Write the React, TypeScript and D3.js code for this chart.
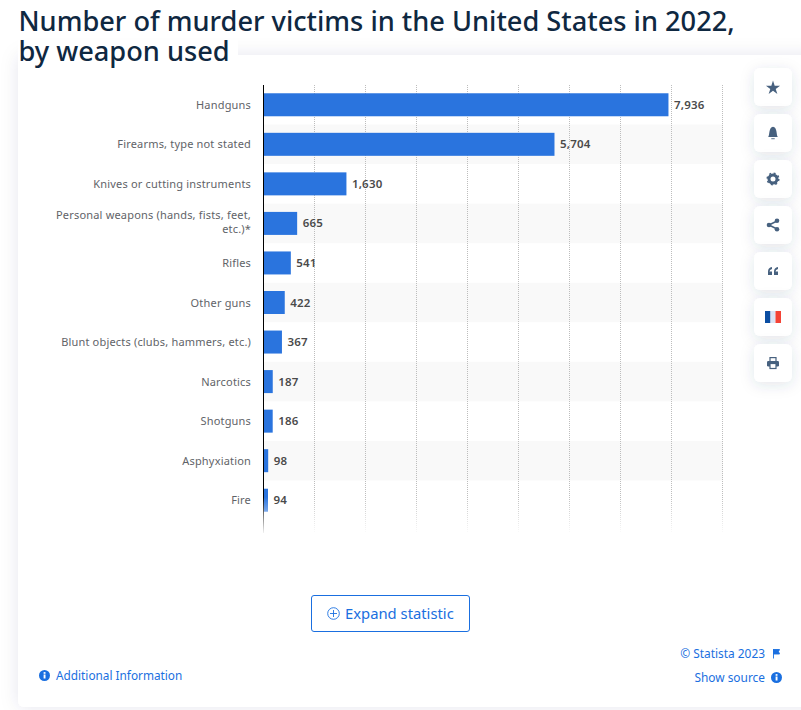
import React from "react";
import * as d3 from "d3";

const categories = [
  ["Handguns"],
  ["Firearms, type not stated"],
  ["Knives or cutting instruments"],
  ["Personal weapons (hands, fists, feet,", "etc.)*"],
  ["Rifles"],
  ["Other guns"],
  ["Blunt objects (clubs, hammers, etc.)"],
  ["Narcotics"],
  ["Shotguns"],
  ["Asphyxiation"],
  ["Fire"],
];
const victims = [7936, 5704, 1630, 665, 541, 422, 367, 187, 186, 98, 94];
const gridTicks = [1000, 2000, 3000, 4000, 5000, 6000, 7000, 8000, 9000];
const titleLines = ["Number of murder victims in the United States in 2022,", "by weapon used"];

const FONT = "'Noto Sans', 'Open Sans', sans-serif";
const BLUE = "#2a74de";
const LINK = "#1a6fe0";
const ICON = "#47617f";

const x = d3.scaleLinear().domain([0, 9000]).range([263.2, 722.8]);
const y = d3.scaleBand<number>().domain(d3.range(categories.length)).range([85, 520]).paddingInner(0);
const fmt = d3.format(",");

const buttonsY = [68, 114, 160, 206, 252, 298, 344];

function Buttons() {
  const star = d3.symbol().type(d3.symbolStar).size(62)();
  return (
    <g>
      {buttonsY.map((by) => (
        <rect key={by} x={754} y={by} width={38} height={38} rx={6} fill="#fff" filter="url(#btn)" />
      ))}
      <path d={star as string} transform="translate(773,88)" fill={ICON} />
      {/* bell */}
      <path d="M768.2 137 C769.8 135.5 768.6 127 773 126.8 C777.4 127 776.2 135.5 777.8 137 Z" fill={ICON} />
      <rect x={771.3} y={138.3} width={3.4} height={0.9} fill={ICON} />
      {/* gear */}
      <circle cx={773} cy={179} r={4} fill="none" stroke={ICON} strokeWidth={3} />
      <circle cx={773} cy={179} r={5.8} fill="none" stroke={ICON} strokeWidth={1.5} strokeDasharray="2 2.55" />
      {/* share */}
      <g fill={ICON} stroke={ICON}>
        <line x1={769} y1={225} x2={777} y2={221} strokeWidth={1.4} />
        <line x1={769} y1={225} x2={777} y2={229} strokeWidth={1.4} />
        <circle cx={769} cy={225} r={2.3} stroke="none" />
        <circle cx={777} cy={220.8} r={2.3} stroke="none" />
        <circle cx={777} cy={229.2} r={2.3} stroke="none" />
      </g>
      {/* quote */}
      <path d="M768 271 h4 v-3.5 h-2.5 q0 -2 2.5 -2.5 v-2 q-4 .5 -4 4.5 Z M774 271 h4 v-3.5 h-2.5 q0 -2 2.5 -2.5 v-2 q-4 .5 -4 4.5 Z" fill={ICON} transform="translate(0,4)" />
      {/* flag */}
      <rect x={765} y={311} width={5.5} height={12} fill="#0b4ea2" />
      <rect x={770.5} y={311} width={5} height={12} fill="#dbe4f5" />
      <rect x={775.5} y={311} width={5.5} height={12} fill="#f44336" />
      {/* printer */}
      <rect x={770} y={357.6} width={6} height={4} fill="#fff" stroke={ICON} strokeWidth={1.2} />
      <rect x={767} y={361} width={12} height={5.5} rx={1.2} fill={ICON} />
      <rect x={770} y={363.5} width={6} height={5} fill="#fff" stroke={ICON} strokeWidth={1.2} />
    </g>
  );
}

function Info({ cx, cy }: { cx: number; cy: number }) {
  return (
    <g>
      <circle cx={cx} cy={cy} r={5.5} fill={LINK} />
      <rect x={cx - 0.9} y={cy - 1} width={1.9} height={4} fill="#fff" />
      <rect x={cx - 0.9} y={cy - 3.4} width={1.9} height={1.7} fill="#fff" />
    </g>
  );
}

export default function App() {
  return (
    <svg width={801} height={710} style={{ position: "absolute", left: 0, top: 0 }} fontFamily={FONT}>
      <defs>
        <filter id="card" x="-5%" y="-5%" width="110%" height="110%">
          <feDropShadow dx={0} dy={0} stdDeviation={9} floodColor="#2c3e60" floodOpacity={0.1} />
        </filter>
        <filter id="btn" x="-60%" y="-60%" width="220%" height="220%">
          <feDropShadow dx={0} dy={3} stdDeviation={7} floodColor="#2c3e60" floodOpacity={0.13} />
        </filter>
        <linearGradient id="fade" x1="0" y1="0" x2="0" y2="1">
          <stop offset="0" stopColor="#fff" stopOpacity={0} />
          <stop offset="1" stopColor="#fff" stopOpacity={1} />
        </linearGradient>
      </defs>
      <rect width={801} height={710} fill="#fff" />
      <rect x={18} y={55} width={800} height={652} rx={6} fill="#fff" filter="url(#card)" />
      <rect x={18} y={40} width={220} height={29} fill="#fff" />

      {titleLines.map((t, i) => (
        <text key={t} x={18.5} y={30.5 + i * 30} fontSize={27.2} fontWeight={500} fill="#0f2841">
          {t}
        </text>
      ))}

      {categories.map((_, i) =>
        i % 2 === 1 ? (
          <rect key={i} x={264} y={y(i)} width={459} height={y.bandwidth()} fill="#f9f9f9" />
        ) : null
      )}
      {gridTicks.map((t) => (
        <line key={t} x1={Math.floor(x(t)) + 0.5} x2={Math.floor(x(t)) + 0.5} y1={85} y2={533} stroke="#bdbdbd" strokeDasharray="1 1" />
      ))}
      {victims.map((v, i) => (
        <rect key={i} x={x(0)} y={(y(i) as number) + y.bandwidth() / 2 - 11.5} width={x(v) - x(0)} height={23} fill={BLUE} />
      ))}
      <line x1={263.5} x2={263.5} y1={85} y2={533} stroke="#000" />
      <rect x={255} y={497} width={475} height={38} fill="url(#fade)" />

      {categories.map((lines, i) => {
        const cy = (y(i) as number) + y.bandwidth() / 2;
        return (
          <text key={i} textAnchor="end" fontSize={11} fill="#5f6368" letterSpacing={0.18}>
            {lines.map((l, j) => (
              <tspan key={l} x={251} y={cy + 4 - (lines.length - 1) + (j - (lines.length - 1) / 2) * 14}>
                {l}
              </tspan>
            ))}
          </text>
        );
      })}
      {victims.map((v, i) => (
        <text key={i} x={x(v) + 5.5} y={(y(i) as number) + y.bandwidth() / 2 + 4} fontSize={11.5} fontWeight={600} fill="#4a4a4a" letterSpacing={0.2}>
          {fmt(v)}
        </text>
      ))}

      <Buttons />

      <rect x={311.5} y={595.5} width={158} height={36} rx={2.5} fill="#fff" stroke={LINK} strokeWidth={1} />
      <circle cx={333.5} cy={613.5} r={5.8} fill="none" stroke={LINK} strokeWidth={0.9} />
      <path d="M333.5 610 v7 M330 613.5 h7" stroke={LINK} strokeWidth={0.9} />
      <text x={345} y={619} fontSize={14.8} fill={LINK}>Expand statistic</text>

      <Info cx={44.5} cy={675.5} />
      <text x={56} y={680} fontSize={11.8} fill={LINK}>Additional Information</text>

      <text x={765} y={658} textAnchor="end" fontSize={11.9} fill={LINK}>© Statista 2023</text>
      <path d="M773.5 649 v9.5 M773.5 649.5 h6 l-1 2 l1 2.5 h-6 Z" fill={LINK} stroke={LINK} strokeWidth={0.9} />
      <text x={765} y={682} textAnchor="end" fontSize={11.9} fill={LINK}>Show source</text>
      <Info cx={776.5} cy={677.5} />
    </svg>
  );
}
